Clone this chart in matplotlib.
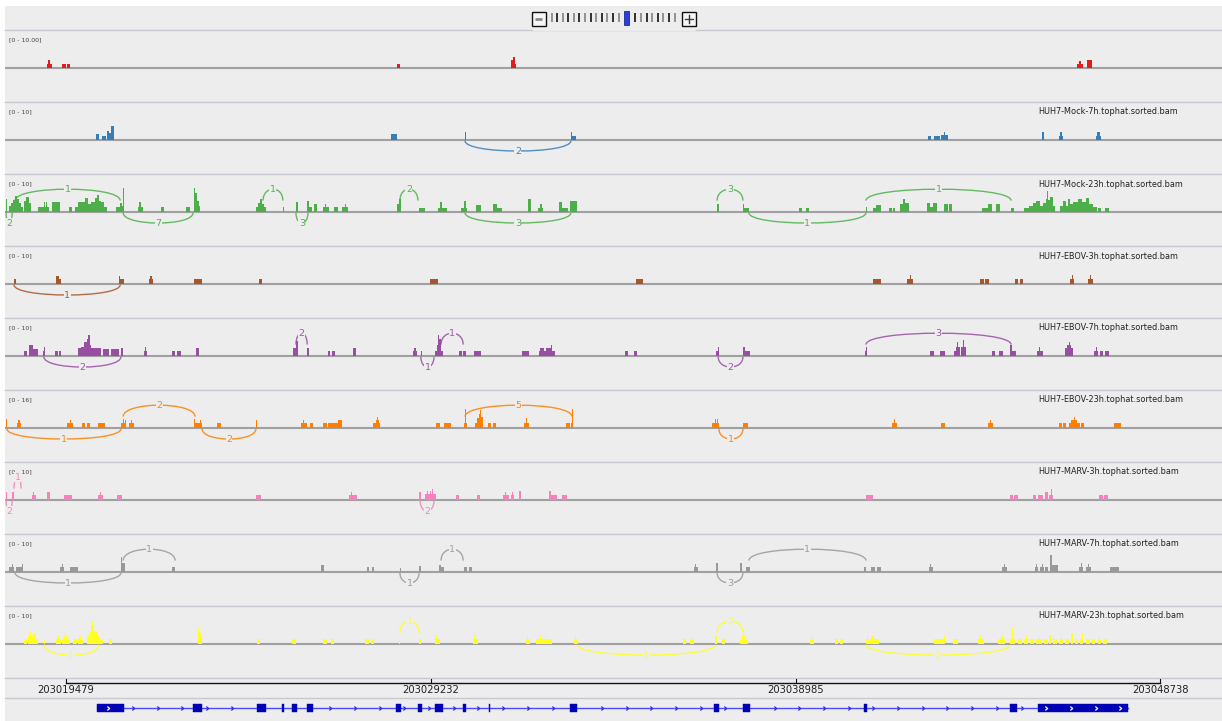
import matplotlib
matplotlib.use("Agg")
import matplotlib.pyplot as plt
from matplotlib.patches import Rectangle, PathPatch
from matplotlib.path import Path
import numpy as np

# ---------------- data ----------------
VIEW_START = 203017848          # genomic bp at left edge of the view
VIEW_KB = 32.54                 # width of the view in kb
RULER_TICKS = [203019479, 203029232, 203038985, 203048738]

# coverage runs: (start_kb, end_kb, depth), kb measured from VIEW_START
RED_COV = [(1.12, 1.26, 1), (1.15, 1.20, 2), (1.52, 1.63, 1), (1.66, 1.74, 1),
           (10.48, 10.56, 1), (13.53, 13.58, 2), (13.58, 13.64, 3), (13.64, 13.66, 1),
           (28.67, 28.83, 1), (28.72, 28.77, 1.8), (28.93, 29.07, 2)]

BLUE_COV = [(2.43, 2.51, 1.5), (2.59, 2.70, 1), (2.73, 2.78, 2.5), (2.78, 2.83, 1.8),
            (2.83, 2.91, 3.8), (10.32, 10.48, 1.5), (12.30, 12.33, 2.2), (15.13, 15.16, 2.2),
            (15.16, 15.27, 1), (24.68, 24.76, 1), (24.84, 25.00, 1), (25.03, 25.22, 1.3),
            (25.11, 25.14, 2.2), (27.73, 27.78, 2.2), (28.18, 28.29, 1), (28.21, 28.26, 2),
            (29.17, 29.31, 1), (29.20, 29.28, 2)]

GREEN_COV = [(0.03, 0.05, 3.4), (0.11, 0.16, 1.5), (0.16, 0.21, 2.5), (0.21, 0.27, 3.2),
             (0.27, 0.32, 4.2), (0.32, 0.37, 3.5), (0.37, 0.43, 2.5), (0.43, 0.48, 1.3),
             (0.51, 0.56, 3), (0.56, 0.64, 4), (0.64, 0.70, 2.5), (0.88, 1.04, 1.3),
             (1.04, 1.07, 2.6), (1.07, 1.10, 1.3), (1.10, 1.12, 2.6), (1.12, 1.18, 1.3),
             (1.26, 1.47, 2.6), (1.71, 1.79, 1.3), (1.87, 1.95, 1.3), (1.95, 2.14, 2.6),
             (2.14, 2.22, 3.6), (2.22, 2.30, 2), (2.30, 2.41, 2.6), (2.41, 2.46, 3.6),
             (2.46, 2.51, 4.5), (2.51, 2.57, 3), (2.57, 2.65, 2.6), (2.65, 2.73, 1.3),
             (2.97, 3.08, 1.3), (3.08, 3.13, 2.5), (3.13, 3.16, 1.6), (3.16, 3.18, 6.2),
             (3.56, 3.69, 1.3), (3.58, 3.64, 2.6), (4.17, 4.25, 1.3), (4.84, 4.95, 1.3),
             (5.05, 5.08, 6.2), (5.08, 5.13, 5), (5.13, 5.19, 3), (5.19, 5.21, 1.5),
             (6.71, 6.77, 1.3), (6.77, 6.82, 2.5), (6.82, 6.87, 3.5), (6.87, 6.93, 2),
             (6.93, 6.98, 1.3), (7.43, 7.46, 1.3), (7.78, 7.83, 2.6), (8.08, 8.13, 3),
             (8.13, 8.21, 1.3), (8.26, 8.34, 2), (8.50, 8.66, 1.3), (8.56, 8.58, 2),
             (8.80, 8.90, 1.3), (9.01, 9.17, 1.3), (9.09, 9.12, 2), (10.48, 10.54, 2),
             (10.54, 10.59, 3.4), (11.07, 11.23, 1), (11.58, 11.63, 1), (11.63, 11.69, 2.6),
             (11.69, 11.82, 1), (12.19, 12.27, 1), (12.27, 12.33, 2.8), (12.33, 12.35, 1),
             (12.59, 12.73, 1.8), (13.05, 13.16, 2), (13.16, 13.29, 1), (13.99, 14.07, 3.5),
             (14.25, 14.31, 1), (14.31, 14.36, 2), (14.36, 14.39, 1), (14.81, 14.89, 2.6),
             (14.89, 15.05, 1), (15.11, 15.30, 2.8), (19.04, 19.09, 2.2), (19.73, 19.76, 2.2),
             (19.76, 19.89, 1), (21.23, 21.31, 1), (21.42, 21.50, 1), (23.02, 23.05, 1.3),
             (23.21, 23.29, 1), (23.29, 23.42, 1.8), (23.64, 23.72, 1), (23.75, 23.80, 1),
             (23.93, 24.01, 2), (24.01, 24.07, 3.5), (24.07, 24.17, 2.5), (24.65, 24.73, 2.5),
             (24.73, 24.81, 1.3), (24.81, 24.92, 2.5), (25.11, 25.22, 2), (25.24, 25.32, 2),
             (26.13, 26.29, 1), (26.29, 26.39, 2), (26.50, 26.61, 2), (26.90, 26.98, 1),
             (27.25, 27.38, 1), (27.38, 27.49, 1.5), (27.49, 27.57, 2.5), (27.57, 27.68, 3),
             (27.68, 27.76, 1.5), (27.76, 27.84, 2.5), (27.84, 27.86, 3.5), (27.86, 27.89, 5.4),
             (27.89, 27.94, 3.2), (27.94, 28.02, 4), (28.02, 28.08, 1.5), (28.21, 28.29, 1.5),
             (28.29, 28.37, 3), (28.37, 28.42, 1.5), (28.42, 28.48, 3.3), (28.48, 28.56, 2),
             (28.56, 28.69, 2.6), (28.69, 28.80, 3.5), (28.80, 28.91, 2.6), (28.91, 28.99, 3.6),
             (28.99, 29.09, 2.2), (29.09, 29.20, 1.3), (29.23, 29.31, 1), (29.41, 29.52, 1)]

BROWN_COV = [(0.24, 0.29, 1.3), (1.36, 1.44, 2), (1.44, 1.50, 1.3), (3.05, 3.08, 2),
             (3.08, 3.18, 1.3), (3.85, 3.88, 1.3), (3.88, 3.93, 2), (3.93, 3.96, 1.3),
             (5.05, 5.27, 1.3), (6.79, 6.87, 1.3), (11.36, 11.58, 1.3), (16.87, 17.06, 1.3),
             (23.21, 23.42, 1.3), (24.12, 24.28, 1.3), (24.20, 24.23, 2.3), (26.07, 26.18, 1.3),
             (26.21, 26.31, 1.3), (27.01, 27.09, 1.3), (27.14, 27.22, 1.3), (28.48, 28.59, 1.3),
             (28.53, 28.56, 2.4), (28.96, 29.09, 1.3), (29.01, 29.04, 2.4)]

PURPLE_COV = [(0.51, 0.59, 1.3), (0.64, 0.75, 2.8), (0.75, 0.88, 1.8), (1.02, 1.07, 1.3),
              (1.04, 1.07, 2.3), (1.34, 1.42, 1.3), (1.44, 1.50, 1.3), (1.95, 2.03, 2),
              (2.03, 2.11, 2.5), (2.11, 2.19, 3.7), (2.19, 2.22, 4.5), (2.22, 2.27, 5.5),
              (2.27, 2.30, 3), (2.30, 2.57, 2), (2.62, 2.78, 1.8), (2.83, 3.05, 1.8),
              (3.10, 3.16, 2), (3.72, 3.80, 1.3), (3.74, 3.77, 2.3), (4.47, 4.55, 1.3),
              (4.60, 4.71, 1.3), (5.11, 5.19, 2), (7.70, 7.78, 2), (7.78, 7.83, 3.9),
              (8.08, 8.13, 2), (8.64, 8.69, 1.3), (8.74, 8.82, 1.3), (9.31, 9.39, 2),
              (10.91, 11.02, 1.3), (10.94, 10.99, 2), (11.12, 11.15, 1.3), (11.50, 11.55, 1.3),
              (11.55, 11.58, 2.9), (11.58, 11.61, 5.5), (11.61, 11.66, 4.4), (11.66, 11.71, 1.3),
              (12.14, 12.22, 1.3), (12.25, 12.33, 1.3), (12.54, 12.73, 1.3), (13.82, 14.01, 1.3),
              (14.28, 14.71, 1.3), (14.31, 14.41, 2), (14.47, 14.60, 2), (14.60, 14.63, 3),
              (16.58, 16.66, 1.3), (16.82, 16.90, 1.3), (19.01, 19.09, 1.3), (19.07, 19.09, 2.4),
              (19.73, 19.79, 2.4), (19.79, 19.92, 1.3), (23.00, 23.05, 1.3), (23.02, 23.05, 2.4),
              (24.74, 24.84, 1.3), (25.00, 25.14, 1.3), (25.38, 25.43, 1.3), (25.43, 25.46, 2.5),
              (25.46, 25.48, 3.8), (25.48, 25.54, 2.5), (25.56, 25.62, 2.5), (25.62, 25.64, 4.2),
              (25.64, 25.70, 2.5), (26.39, 26.47, 1.3), (26.58, 26.69, 1.3), (26.87, 26.93, 2.8),
              (26.93, 27.03, 1.3), (27.60, 27.76, 1.3), (27.65, 27.68, 2.4), (28.34, 28.56, 2),
              (28.40, 28.51, 2.8), (28.45, 28.48, 3.8), (29.12, 29.23, 1.3), (29.17, 29.20, 2.4),
              (29.28, 29.36, 1.3), (29.41, 29.52, 1.3)]

ORANGE_COV = [(0.03, 0.05, 3.7), (0.32, 0.43, 2.1), (0.35, 0.40, 3.5), (1.66, 1.82, 2.1),
              (1.74, 1.76, 3.5), (2.06, 2.14, 2.1), (2.19, 2.27, 2.1), (2.49, 2.67, 2.1),
              (3.10, 3.24, 2.1), (3.16, 3.18, 3.8), (3.21, 3.24, 3.2), (3.32, 3.45, 2.1),
              (3.37, 3.40, 3.5), (5.05, 5.27, 2.1), (5.05, 5.08, 3.8), (5.21, 5.24, 3.2),
              (5.67, 5.78, 2.1), (6.71, 6.74, 3.2), (7.92, 8.08, 2.1), (7.97, 8.00, 3.2),
              (8.16, 8.24, 2.1), (8.50, 8.61, 2.1), (8.64, 8.90, 2.1), (8.90, 9.01, 3.2),
              (9.84, 10.03, 2.1), (9.92, 10.00, 3.5), (9.95, 9.97, 4.5), (11.53, 11.63, 2.1),
              (11.74, 11.93, 2.1), (12.27, 12.35, 2.1), (12.30, 12.33, 8), (12.57, 12.62, 2.1),
              (12.62, 12.67, 4.2), (12.67, 12.70, 5.8), (12.70, 12.73, 7.7), (12.73, 12.78, 4.5),
              (12.92, 13.00, 2.1), (13.05, 13.13, 2.1), (13.88, 14.01, 2.1), (13.93, 13.96, 4.3),
              (15.00, 15.11, 2.1), (15.13, 15.19, 2.1), (15.16, 15.19, 8), (18.91, 19.09, 2.1),
              (18.99, 19.01, 3.8), (19.04, 19.07, 3.8), (19.73, 19.87, 2.1), (23.72, 23.85, 2.1),
              (23.77, 23.80, 3.8), (25.03, 25.14, 2.1), (26.29, 26.42, 2.1), (26.34, 26.37, 3.5),
              (28.18, 28.26, 2.1), (28.29, 28.37, 2.1), (28.45, 28.75, 2.1), (28.51, 28.67, 3.5),
              (28.59, 28.61, 4.8), (28.77, 28.85, 2.1), (29.66, 29.84, 2.1)]

PINK_COV = [(0.03, 0.05, 2), (0.19, 0.24, 2), (0.72, 0.83, 1.3), (0.75, 0.78, 2),
            (1.12, 1.20, 2), (1.58, 1.79, 1.3), (2.49, 2.62, 1.3), (2.54, 2.57, 2),
            (3.00, 3.13, 1.3), (6.71, 6.85, 1.3), (9.20, 9.41, 1.3), (9.25, 9.28, 2),
            (11.07, 11.12, 2), (11.23, 11.53, 1.5), (11.28, 11.31, 2.5), (11.36, 11.39, 2.5),
            (11.42, 11.44, 3), (12.06, 12.14, 1.3), (12.62, 12.70, 1.3), (13.32, 13.48, 1.3),
            (13.37, 13.40, 2), (13.53, 13.61, 1.3), (13.56, 13.58, 2), (13.74, 13.80, 2.5),
            (14.55, 14.60, 2.5), (14.60, 14.76, 1.3), (14.89, 15.03, 1.3), (23.02, 23.21, 1.3),
            (26.87, 26.95, 1.3), (26.98, 27.09, 1.3), (27.49, 27.57, 1.3), (27.62, 27.76, 1.3),
            (27.81, 27.89, 2), (27.92, 28.02, 1.3), (27.97, 28.00, 3), (29.25, 29.36, 1.3),
            (29.39, 29.49, 1.3)]

GRAY_COV = [(0.11, 0.24, 1.3), (0.19, 0.21, 2), (0.29, 0.48, 1.3), (0.45, 0.48, 2),
            (1.47, 1.58, 1.3), (1.52, 1.55, 2), (1.74, 1.95, 1.3), (3.10, 3.13, 4),
            (3.13, 3.21, 2.5), (4.47, 4.55, 1.3), (8.45, 8.53, 1.8), (9.68, 9.73, 1.3),
            (9.81, 9.87, 1.3), (10.56, 10.59, 1), (11.07, 11.12, 1.5), (11.61, 11.66, 1.8),
            (11.66, 11.74, 1.3), (12.27, 12.35, 1.3), (12.41, 12.49, 1.3), (18.42, 18.53, 1.3),
            (18.45, 18.48, 2), (19.01, 19.07, 2.5), (19.65, 19.71, 2.5), (19.81, 19.92, 1.3),
            (22.97, 23.02, 1.2), (23.16, 23.26, 1.3), (23.32, 23.42, 1.3), (24.71, 24.82, 1.3),
            (24.74, 24.76, 2), (26.66, 26.79, 1.3), (26.71, 26.74, 2), (27.54, 27.62, 1.3),
            (27.57, 27.60, 2), (27.68, 27.78, 1.3), (27.73, 27.76, 2), (27.81, 27.89, 1.3),
            (27.94, 28.00, 4.5), (28.00, 28.16, 1.8), (28.72, 28.83, 1.3), (28.77, 28.80, 2.3),
            (28.91, 29.04, 1.3), (28.96, 28.99, 2), (29.55, 29.79, 1.3)]

YELLOW_COV = [(0.51, 0.59, 1.3), (0.62, 0.67, 2), (0.67, 0.70, 3.5), (0.70, 0.75, 2),
              (0.75, 0.83, 2.7), (0.83, 0.88, 1.3), (1.04, 1.07, 1.3), (1.36, 1.50, 1.3),
              (1.39, 1.44, 2), (1.52, 1.74, 1.3), (1.58, 1.68, 2), (1.60, 1.63, 2.8),
              (1.82, 1.93, 1.3), (1.95, 2.09, 1.3), (1.98, 2.03, 2), (2.19, 2.27, 2),
              (2.27, 2.30, 3.5), (2.30, 2.33, 5), (2.33, 2.35, 6), (2.35, 2.38, 5),
              (2.38, 2.46, 3.5), (2.46, 2.54, 2.2), (2.54, 2.62, 1.3), (2.78, 2.86, 1.3),
              (5.16, 5.19, 4.4), (5.19, 5.24, 3), (5.24, 5.27, 2), (6.74, 6.82, 1.3),
              (7.67, 7.78, 1.3), (8.50, 8.61, 1.3), (8.72, 8.80, 1.3), (9.63, 9.73, 1.3),
              (9.79, 9.87, 1.3), (10.54, 10.56, 1.3), (11.07, 11.12, 1.3), (11.50, 11.63, 1.3),
              (11.53, 11.55, 2.4), (12.51, 12.65, 1.3), (12.54, 12.57, 2.5), (13.93, 14.04, 1.3),
              (13.96, 13.99, 2.4), (14.20, 14.63, 1.3), (14.31, 14.33, 2.4), (14.44, 14.47, 2),
              (15.22, 15.32, 1.3), (15.24, 15.27, 2.6), (18.13, 18.21, 1.3), (18.32, 18.42, 1.3),
              (18.34, 18.37, 2), (18.99, 19.04, 2), (19.17, 19.25, 1.3), (19.65, 19.87, 1.3),
              (19.71, 19.79, 2.5), (19.73, 19.76, 4), (21.53, 21.63, 1.3), (21.55, 21.58, 2.3),
              (22.19, 22.27, 1.3), (22.33, 22.41, 1.3), (23.02, 23.37, 1.3), (23.05, 23.08, 2.3),
              (23.16, 23.24, 2), (24.84, 25.14, 1.3), (25.11, 25.14, 2.4), (25.35, 25.48, 1.3),
              (25.40, 25.43, 2.4), (26.02, 26.18, 1.3), (26.07, 26.10, 2.4), (26.55, 26.74, 1.3),
              (26.63, 26.69, 2), (26.87, 27.01, 1.3), (26.93, 26.95, 4.5), (27.09, 27.19, 1.3),
              (27.25, 27.35, 1.3), (27.30, 27.33, 2.5), (27.41, 27.52, 1.3), (27.57, 27.73, 1.3),
              (27.65, 27.68, 2.5), (27.78, 27.89, 1.3), (27.92, 27.97, 2.5), (28.02, 28.13, 1.3),
              (28.18, 28.29, 1.3), (28.24, 28.26, 2.7), (28.34, 28.45, 1.3), (28.51, 28.56, 2.8),
              (28.61, 28.69, 1.3), (28.75, 28.83, 1.3), (28.80, 28.83, 3), (28.91, 29.01, 1.3),
              (29.07, 29.15, 1.3), (29.23, 29.31, 1.3), (29.25, 29.28, 2.4), (29.36, 29.47, 1.3)]

# splice junctions: (start_kb, end_kb, reads, strand side: +1 above / -1 below)
RED_JUNC = []
BLUE_JUNC = [(12.30, 15.13, 2, -1)]
GREEN_JUNC = [(0.27, 3.08, 1, 1), (0.03, 0.19, 2, -1), (3.16, 5.03, 7, -1),
              (6.90, 7.43, 1, 1), (7.78, 8.10, 3, -1), (10.56, 11.04, 2, 1),
              (12.30, 15.13, 3, -1), (19.04, 19.73, 3, 1), (19.89, 23.02, 1, -1),
              (23.02, 26.90, 1, 1)]
BROWN_JUNC = [(0.24, 3.08, 1, -1)]
PURPLE_JUNC = [(1.04, 3.10, 2, -1), (7.78, 8.08, 2, 1), (11.12, 11.47, 1, -1),
               (11.66, 12.25, 1, 1), (19.07, 19.73, 2, -1), (23.02, 26.90, 3, 1)]
ORANGE_JUNC = [(0.05, 3.10, 1, -1), (3.16, 5.08, 2, 1), (5.27, 6.71, 2, -1),
               (12.30, 15.16, 5, 1), (19.09, 19.73, 1, -1)]
PINK_JUNC = [(0.24, 0.43, 1, 1), (0.03, 0.19, 2, -1), (11.10, 11.47, 2, -1)]
GRAY_JUNC = [(0.27, 3.10, 1, -1), (3.16, 4.55, 1, 1), (10.56, 11.07, 1, -1),
             (11.66, 12.25, 1, 1), (19.04, 19.73, 3, -1), (19.89, 23.02, 1, 1)]
YELLOW_JUNC = [(1.04, 2.51, 1, -1), (10.56, 11.07, 1, 1), (15.30, 18.99, 1, -1),
               (19.04, 19.73, 2, 1), (23.02, 26.87, 1, -1)]

TRACK_NAMES = ["", "HUH7-Mock-7h.tophat.sorted.bam", "HUH7-Mock-23h.tophat.sorted.bam",
               "HUH7-EBOV-3h.tophat.sorted.bam", "HUH7-EBOV-7h.tophat.sorted.bam",
               "HUH7-EBOV-23h.tophat.sorted.bam", "HUH7-MARV-3h.tophat.sorted.bam",
               "HUH7-MARV-7h.tophat.sorted.bam", "HUH7-MARV-23h.tophat.sorted.bam"]
RANGE_LABELS = ["[0 - 10.00]", "[0 - 10]", "[0 - 10]", "[0 - 10]", "[0 - 10]",
                "[0 - 16]", "[0 - 10]", "[0 - 10]", "[0 - 10]"]
RANGE_MAX = [10, 10, 10, 10, 10, 16, 10, 10, 10]

# gene model exons (start_kb, end_kb)
GENE_SPAN = (2.46, 30.03)
EXONS = [(2.46, 3.18), (5.03, 5.27), (6.74, 6.98), (7.41, 7.46), (7.67, 7.81),
         (8.08, 8.24), (10.46, 10.59), (11.04, 11.15), (11.50, 11.71), (12.25, 12.33),
         (12.94, 12.97), (15.11, 15.30), (18.96, 19.09), (19.73, 19.92), (22.97, 23.04),
         (26.87, 27.06), (27.62, 30.03)]

COVERAGES = [RED_COV, BLUE_COV, GREEN_COV, BROWN_COV, PURPLE_COV, ORANGE_COV,
             PINK_COV, GRAY_COV, YELLOW_COV]
JUNCTIONS = [RED_JUNC, BLUE_JUNC, GREEN_JUNC, BROWN_JUNC, PURPLE_JUNC, ORANGE_JUNC,
             PINK_JUNC, GRAY_JUNC, YELLOW_JUNC]
COLORS = ['#e41a1c', '#377eb8', '#4daf4a', '#a65628', '#984ea3', '#ff7f00',
          '#f781bf', '#999999', '#ffff22']

# ---------------- layout ----------------
W, H = 1222, 721
BG = '#ededed'
SEP = '#c9c9d3'
fig = plt.figure(figsize=(W / 100, H / 100), dpi=100)
fig.patch.set_facecolor('white')

chrome = fig.add_axes([0, 0, 1, 1])
chrome.set_xlim(0, W)
chrome.set_ylim(H, 0)
chrome.axis('off')
chrome.add_patch(Rectangle((5, 6), W - 5, H - 6, fc=BG, ec='none', zorder=0))

TRACK_TOP0 = 30
TRACK_H = 72
BASE_OFF = 38
X0 = 5

# separators
seps = [TRACK_TOP0 + i * TRACK_H for i in range(10)] + [698]
for y in seps:
    if y == TRACK_TOP0:
        chrome.plot([X0, 532], [y, y], color=SEP, lw=1.0)
        chrome.plot([696, W], [y, y], color=SEP, lw=1.0)
        chrome.plot([532, 696], [y + 1, y + 1], color='#e3e3e6', lw=1.0)
    else:
        chrome.plot([X0, W], [y, y], color=SEP, lw=1.0)

# zoom widget
chrome.add_patch(Rectangle((531.5, 11.5), 14, 14, fc='#f6f6f6', ec='#111111', lw=1.0))
chrome.plot([535, 542], [18.5, 18.5], color='#888888', lw=2.0, solid_capstyle='butt')
chrome.add_patch(Rectangle((681.5, 11.5), 14, 14, fc='#f6f6f6', ec='#111111', lw=1.0))
chrome.plot([684.5, 692.5], [18.5, 18.5], color='#444444', lw=1.0)
chrome.plot([688.5, 688.5], [14.5, 22.5], color='#333333', lw=1.0)
tick_x = np.linspace(551.5, 674.5, 23)
for i, tx in enumerate(tick_x):
    if 621 < tx < 632:
        continue
    chrome.plot([tx, tx], [13, 22], color='#222222' if i % 2 else '#8a8a8a', lw=1.3,
                solid_capstyle='butt')
chrome.add_patch(Rectangle((624, 11), 5, 14, fc='#2a40d8', ec='#1a2aa0', lw=0.6))


def px_axes(top, height):
    return fig.add_axes([X0 / W, 1 - (top + height) / H, (W - X0) / W, height / H])


for i in range(9):
    top = TRACK_TOP0 + i * TRACK_H
    rmax = RANGE_MAX[i]
    col = COLORS[i]
    ax = px_axes(top, TRACK_H)
    ax.patch.set_alpha(0)
    ax.set_xlim(0, VIEW_KB)
    ax.set_ylim(-rmax * (TRACK_H - BASE_OFF) / BASE_OFF, rmax)
    ax.axis('off')
    ax.axhline(0, color='#a0a0a0', lw=1.5, zorder=1)
    cov = COVERAGES[i]
    starts = [c[0] for c in cov]
    widths = [c[1] - c[0] for c in cov]
    depths = [c[2] for c in cov]
    ax.bar(starts, depths, width=widths, align='edge', color=col, linewidth=0, zorder=2)
    for (s, e, n, side) in JUNCTIONS[i]:
        if side > 0:
            y0, k = 0.30 * rmax, 0.40 * rmax
        else:
            y0, k = -0.02 * rmax, -0.36 * rmax
        path = Path([(s, y0), (s, y0 + k), (e, y0 + k), (e, y0)],
                    [Path.MOVETO, Path.CURVE4, Path.CURVE4, Path.CURVE4])
        ax.add_patch(PathPatch(path, fc='none', ec=col, lw=1.0, alpha=0.85, zorder=3))
        ax.text((s + e) / 2, y0 + 0.75 * k, str(n), ha='center', va='center',
                fontsize=6.8, color=col, alpha=0.95, zorder=4,
                bbox=dict(boxstyle='square,pad=0.05', fc=BG, ec='none'))
    ax.text(4 / (W - X0), 1 - 10 / TRACK_H, RANGE_LABELS[i], transform=ax.transAxes,
            ha='left', va='center', fontsize=4.5, color='#444444')
    if TRACK_NAMES[i]:
        ax.text((1038 - X0) / (W - X0), 1 - 10 / TRACK_H, TRACK_NAMES[i],
                transform=ax.transAxes, ha='left', va='center', fontsize=5.9,
                color='#222222')

# ruler
rax = px_axes(678, 20)
rax.patch.set_alpha(0)
rax.set_xlim(0, VIEW_KB)
rax.set_ylim(20, 0)
rax.axis('off')
tk = [(t - VIEW_START) / 1000 for t in RULER_TICKS]
rax.plot([tk[0], tk[-1]], [4.6, 4.6], color='#111111', lw=1.0)
for t, lab in zip(tk, RULER_TICKS):
    rax.plot([t, t], [0.8, 4.6], color='#111111', lw=0.8)
    rax.text(t, 12.0, str(lab), ha='center', va='center', fontsize=7.2, color='#222222')

# gene track
gax = px_axes(698, 18)
gax.patch.set_alpha(0)
gax.set_xlim(0, VIEW_KB)
gax.set_ylim(0, 18)
gax.axis('off')
LINE_C = '#4a4aff'
EXON_C = '#0000b4'
gy = 8.5
gax.plot(GENE_SPAN, [gy, gy], color=LINE_C, lw=1.0, zorder=1)
for s, e in EXONS:
    gax.add_patch(Rectangle((s, gy - 4), e - s, 8, fc=EXON_C, ec=EXON_C, lw=0.3, zorder=2))
chev = Path([(-0.6, 1.0), (0.6, 0.0), (-0.6, -1.0)], [Path.MOVETO, Path.LINETO, Path.LINETO])
step = 0.66
pos = np.arange(GENE_SPAN[0] + 0.3, GENE_SPAN[1], step)
blue_pts, white_pts = [], []
for p in pos:
    inside = [(s, e) for s, e in EXONS if s - 0.06 <= p <= e + 0.06]
    if not inside:
        blue_pts.append(p)
    else:
        s, e = inside[0]
        if e - s > 0.5 and s + 0.1 < p < e - 0.1:
            white_pts.append(p)
gax.plot(blue_pts, [gy] * len(blue_pts), linestyle='none', marker=chev, markersize=2.8,
         markerfacecolor='none', markeredgecolor='#2a2aee', markeredgewidth=0.9, zorder=3)
gax.plot(white_pts, [gy] * len(white_pts), linestyle='none', marker=chev, markersize=2.8,
         markerfacecolor='none', markeredgecolor='white', markeredgewidth=0.9, zorder=3)

fig.savefig('out.png', dpi=100, facecolor=fig.get_facecolor())
